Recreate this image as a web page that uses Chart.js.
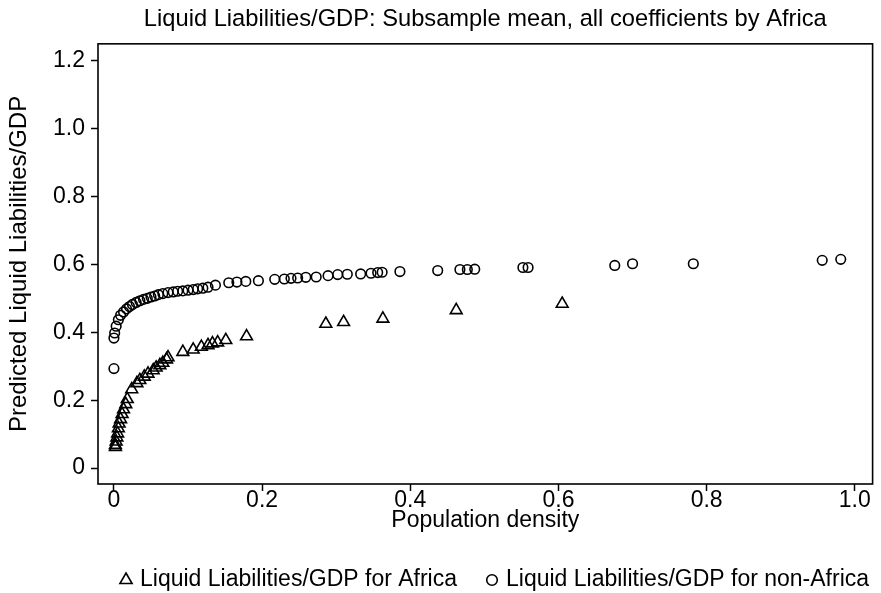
<!DOCTYPE html>
<html><head><meta charset="utf-8">
<script src="https://cdn.jsdelivr.net/npm/chart.js@4/dist/chart.umd.min.js"></script>
<style>html,body{margin:0;padding:0;background:#fff;} #wrap{width:881px;height:593px;}</style>
</head><body><div id="wrap"><canvas id="c" width="881" height="593"></canvas></div>
<script>
const titleText = "Liquid Liabilities/GDP: Subsample mean, all coefficients by Africa";
const xAxisTitle = "Population density";
const yAxisTitle = "Predicted Liquid Liabilities/GDP";
const seriesNames = ["Liquid Liabilities/GDP for Africa", "Liquid Liabilities/GDP for non-Africa"];
const seriesMarkers = ["triangle", "circle"];

const africaX = [0.002,0.002,0.003,0.004,0.005,0.006,0.007,0.009,0.011,0.013,0.016,0.018,0.024,0.031,0.035,0.041,0.046,0.053,0.057,0.062,0.066,0.071,0.073,0.093,0.107,0.118,0.127,0.133,0.140,0.151,0.179,0.286,0.310,0.363,0.462,0.605];
const africaY = [0.062,0.068,0.078,0.090,0.102,0.117,0.131,0.144,0.159,0.173,0.188,0.203,0.232,0.250,0.259,0.269,0.278,0.288,0.296,0.303,0.310,0.320,0.326,0.342,0.349,0.357,0.362,0.367,0.370,0.377,0.388,0.425,0.430,0.440,0.465,0.484];

const nonAfricaX = [0.000,0.000,0.001,0.003,0.006,0.009,0.013,0.017,0.021,0.025,0.030,0.035,0.040,0.045,0.050,0.055,0.060,0.066,0.073,0.080,0.086,0.093,0.100,0.107,0.113,0.120,0.127,0.137,0.155,0.166,0.178,0.195,0.217,0.230,0.239,0.248,0.259,0.273,0.289,0.302,0.315,0.333,0.347,0.356,0.362,0.386,0.437,0.467,0.477,0.487,0.552,0.559,0.676,0.700,0.782,0.956,0.981];
const nonAfricaY = [0.293,0.383,0.398,0.418,0.437,0.450,0.460,0.469,0.476,0.482,0.488,0.493,0.497,0.500,0.504,0.507,0.511,0.514,0.517,0.519,0.521,0.522,0.524,0.526,0.528,0.530,0.533,0.539,0.546,0.548,0.550,0.552,0.556,0.557,0.559,0.560,0.562,0.563,0.567,0.570,0.571,0.572,0.574,0.576,0.577,0.579,0.582,0.585,0.585,0.586,0.591,0.591,0.597,0.602,0.602,0.612,0.615];

const xTicks = [0, 0.2, 0.4, 0.6, 0.8, 1.0];
const xTickLabels = ["0", "0.2", "0.4", "0.6", "0.8", "1.0"];
const yTicks = [0, 0.2, 0.4, 0.6, 0.8, 1.0, 1.2];
const yTickLabels = ["0", "0.2", "0.4", "0.6", "0.8", "1.0", "1.2"];

const FONT = "'Liberation Sans', Arial, Helvetica, sans-serif";
Chart.defaults.font.family = FONT;
Chart.defaults.color = '#000';

const framePlugin = {
  id: 'frame',
  afterDatasetsDraw(chart) {
    const {ctx, chartArea: a} = chart;
    ctx.save();
    ctx.strokeStyle = '#000';
    ctx.lineWidth = 1.6;
    ctx.strokeRect(a.left, a.top, a.right - a.left, a.bottom - a.top);
    ctx.restore();
  }
};

// One-row legend below the plot: hollow marker + label for each dataset
const legendPlugin = {
  id: 'rowLegend',
  afterDraw(chart) {
    const ctx = chart.ctx;
    const a = chart.chartArea;
    const y = a.bottom + 96;
    const starts = [126, 492];
    ctx.save();
    ctx.font = "23px " + FONT;
    ctx.textBaseline = 'middle';
    ctx.textAlign = 'left';
    chart.data.datasets.forEach((ds, i) => {
      const cx = starts[i];
      ctx.strokeStyle = '#000';
      ctx.fillStyle = 'rgba(0,0,0,0)';
      ctx.lineWidth = 1.6;
      Chart.helpers.drawPoint(ctx, {pointStyle: seriesMarkers[i], radius: i === 0 ? 7 : 5.3, borderWidth: 1.6, rotation: 0}, cx, y);
      ctx.fillStyle = '#000';
      ctx.fillText(ds.label, cx + 14, y);
    });
    ctx.restore();
  }
};

const toPts = (xs, ys) => xs.map((x, i) => ({x: x, y: ys[i]}));

new Chart(document.getElementById('c'), {
  type: 'scatter',
  data: {
    datasets: [
      {label: seriesNames[0], data: toPts(africaX, africaY), pointStyle: seriesMarkers[0], pointRadius: 6.8,
       pointBorderWidth: 1.6, borderColor: '#000', backgroundColor: 'rgba(0,0,0,0)',
       pointBorderColor: '#000', pointBackgroundColor: 'rgba(0,0,0,0)'},
      {label: seriesNames[1], data: toPts(nonAfricaX, nonAfricaY), pointStyle: seriesMarkers[1], pointRadius: 4.8,
       pointBorderWidth: 1.6, borderColor: '#000', backgroundColor: 'rgba(0,0,0,0)',
       pointBorderColor: '#000', pointBackgroundColor: 'rgba(0,0,0,0)'}
    ]
  },
  options: {
    responsive: false,
    animation: false,
    devicePixelRatio: 1,
    events: [],
    layout: {padding: {left: 0, right: 5, top: 0, bottom: 52.5}},
    plugins: {
      tooltip: {enabled: false},
      title: {display: true, text: titleText, fullSize: false, color: '#000',
        font: {size: 23.7, weight: 'normal', family: FONT}, padding: {top: 5.5, bottom: 9.9}},
      legend: {display: false}
    },
    scales: {
      x: {
        type: 'linear', min: -0.0215, max: 1.024,
        afterFit(s) { s.height = 56.5; },
        afterBuildTicks(s) { s.ticks = xTicks.map(v => ({value: v})); },
        ticks: {autoSkip: false, maxRotation: 0, padding: -2, color: '#000',
          font: {size: 23, lineHeight: 1.0},
          callback: (v, i) => xTickLabels[i]},
        grid: {drawOnChartArea: false, drawTicks: true, tickLength: 7, tickWidth: 1.5, tickColor: '#000'},
        border: {display: false},
        title: {display: true, text: xAxisTitle, color: '#000', font: {size: 23}, padding: {top: 0, bottom: 6.5}}
      },
      y: {
        type: 'linear', min: -0.047, max: 1.25,
        afterFit(s) { s.width = 98; },
        afterBuildTicks(s) { s.ticks = yTicks.map(v => ({value: v})); },
        ticks: {autoSkip: false, padding: 6, color: '#000', font: {size: 23},
          callback: (v, i) => yTickLabels[i]},
        grid: {drawOnChartArea: false, drawTicks: true, tickLength: 7, tickWidth: 1.5, tickColor: '#000'},
        border: {display: false},
        title: {display: true, text: yAxisTitle, color: '#000', font: {size: 24}, padding: {top: 5, bottom: 0}}
      }
    }
  },
  plugins: [framePlugin, legendPlugin]
});
</script>
</body></html>
